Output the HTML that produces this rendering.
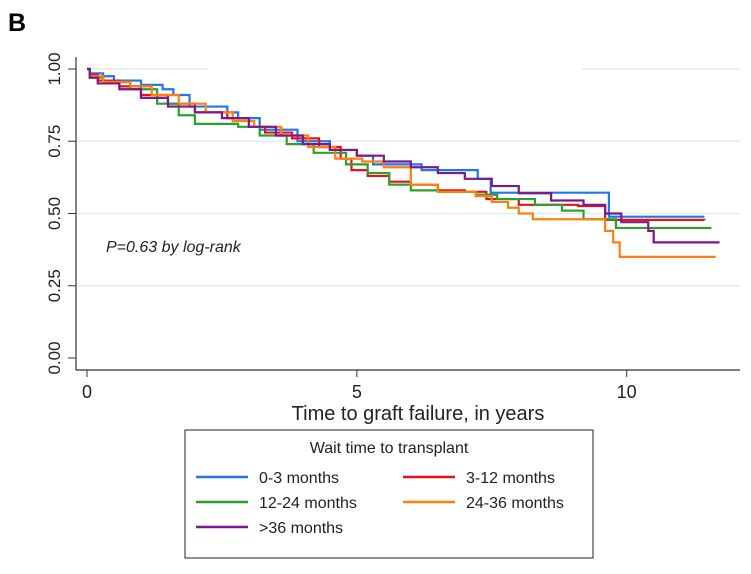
<!DOCTYPE html>
<html><head><meta charset="utf-8">
<style>
body{margin:0;background:#fff;width:751px;height:569px;overflow:hidden;font-family:"Liberation Sans",sans-serif;}
</style></head>
<body>
<svg id="chart" width="751" height="569" viewBox="0 0 751 569" xmlns="http://www.w3.org/2000/svg">
<text x="8" y="31" font-size="25" font-weight="bold" font-family="Liberation Sans">B</text>
<g id="grid"></g>
<g id="axes"></g>
<g id="series"></g>
<text x="106" y="252" font-size="16" font-style="italic" fill="#222">P=0.63 by log-rank</text>
<text x="418" y="420" font-size="20" text-anchor="middle" fill="#222">Time to graft failure, in years</text>
<g id="legend">
<rect x="185" y="430" width="408" height="128" fill="#fff" stroke="#222" stroke-width="1"/>
<text x="389" y="453" font-size="16" text-anchor="middle" fill="#222">Wait time to transplant</text>
</g>
</svg>
<script>
const xTicks=[0,5,10];
const yTicks=[0,0.25,0.5,0.75,1];
const yTickLabels=["0.00","0.25","0.50","0.75","1.00"];
const seriesNames=["0-3 months","3-12 months","12-24 months","24-36 months",">36 months"];
const seriesColors=["#1f77e8","#e8101c","#2ca02c","#ff7f0e","#7a1a8a"];
const tBlue=[0,0.05,0.3,0.5,1.0,1.4,1.6,1.9,2.6,2.8,3.2,3.8,3.9,4.5,5.0,5.3,5.8,6.2,7.24,7.48,9.67,11.44];
const sBlue=[1,0.985,0.975,0.96,0.945,0.93,0.91,0.87,0.85,0.83,0.79,0.79,0.75,0.72,0.70,0.67,0.67,0.65,0.62,0.572,0.489,0.489];
const tRed=[0,0.05,0.2,0.6,1.0,1.5,2.0,2.6,3.0,3.3,3.8,4.3,4.7,4.9,5.2,5.6,6.0,6.5,7.0,7.4,8.0,9.1,9.6,11.44];
const sRed=[1,0.98,0.96,0.94,0.91,0.88,0.85,0.83,0.80,0.78,0.76,0.73,0.69,0.65,0.63,0.61,0.60,0.58,0.575,0.55,0.53,0.526,0.478,0.477];
const tGreen=[0,0.05,0.3,0.8,1.3,1.7,2.0,2.8,3.2,3.7,4.2,4.8,5.2,5.6,6.0,6.5,7.2,7.6,8.3,8.8,9.2,9.8,11.57];
const sGreen=[1,0.97,0.955,0.93,0.88,0.84,0.81,0.80,0.77,0.74,0.71,0.67,0.64,0.60,0.58,0.575,0.565,0.55,0.53,0.51,0.48,0.45,0.45];
const tOrange=[0,0.05,0.3,0.8,1.2,1.7,2.2,2.7,3.1,3.6,4.1,4.6,5.1,5.5,6.0,6.5,7.0,7.2,7.5,7.8,8.0,8.26,9.4,9.6,9.75,9.87,11.65];
const sOrange=[1,0.975,0.955,0.94,0.91,0.88,0.85,0.82,0.80,0.77,0.73,0.69,0.68,0.66,0.60,0.575,0.575,0.56,0.54,0.52,0.50,0.48,0.48,0.44,0.40,0.35,0.35];
const tPurple=[0,0.05,0.2,0.6,1.0,1.5,2.0,2.5,3.0,3.5,4.0,4.5,5.0,5.5,6.0,6.5,7.0,7.5,8.0,8.6,9.2,9.6,9.9,10.4,10.5,11.72];
const sPurple=[1,0.97,0.95,0.93,0.90,0.87,0.85,0.83,0.80,0.77,0.74,0.72,0.70,0.68,0.66,0.64,0.62,0.595,0.57,0.545,0.53,0.50,0.47,0.44,0.40,0.40];
const times=[tBlue,tRed,tGreen,tOrange,tPurple];
const survs=[sBlue,sRed,sGreen,sOrange,sPurple];

const X0=87,X10=626.7,Y0=358,Y1=69;
function xs(t){return X0+(X10-X0)*t/10;}
function ys(v){return Y0+(Y1-Y0)*v;}
const NS="http://www.w3.org/2000/svg";
function mk(tag,attrs,parent){const e=document.createElementNS(NS,tag);for(const k in attrs)e.setAttribute(k,attrs[k]);parent.appendChild(e);return e;}
const grid=document.getElementById('grid'),axes=document.getElementById('axes'),ser=document.getElementById('series'),leg=document.getElementById('legend');
yTicks.forEach((v,i)=>{
  if(v>0){
    if(v===1){
      const g1=mk('line',{x1:87,x2:207,y1:ys(v),y2:ys(v),stroke:'#e1ecf0','stroke-width':1.5},grid);
      
      
      const g2=mk('line',{x1:582,x2:740,y1:ys(v),y2:ys(v),stroke:'#e1ecf0','stroke-width':1.5},grid);
      
      
    } else {
      const g=mk('line',{x1:77,x2:740,y1:ys(v),y2:ys(v),stroke:'#e1ecf0','stroke-width':1.5},grid);
      
      
    }
  }
  const tk=mk('line',{x1:68,x2:76,y1:ys(v),y2:ys(v),stroke:'#333','stroke-width':1},axes);
  
  
  const y=ys(v);
  const tl=mk('text',{x:0,y:0,transform:`translate(60,${y}) rotate(-90)`,'text-anchor':'middle','font-size':17,fill:'#222'},axes);
  tl.textContent=yTickLabels[i];
  
  
});
const ya=mk('line',{x1:76,x2:76,y1:57,y2:370,stroke:'#333','stroke-width':1.2},axes);


const xa=mk('line',{x1:76,x2:740,y1:370,y2:370,stroke:'#333','stroke-width':1.2},axes);


xTicks.forEach(t=>{
  const tk=mk('line',{x1:xs(t),x2:xs(t),y1:370,y2:377,stroke:'#333','stroke-width':1},axes);
  
  
  const tl=mk('text',{x:xs(t),y:398,'text-anchor':'middle','font-size':18,fill:'#222'},axes);
  tl.textContent=String(t);
  
  
});
times.forEach((ts,i)=>{
  const ss=survs[i];
  let d=`M${xs(ts[0])},${ys(ss[0])}`;
  for(let j=1;j<ts.length;j++){d+=` H${xs(ts[j])} V${ys(ss[j])}`;}
  const p=mk('path',{d:d,fill:'none',stroke:seriesColors[i],'stroke-width':2.2},ser);
  
  
});
const legPos=[[196,477],[403,477],[196,502],[403,502],[196,527]];
seriesNames.forEach((n,i)=>{
  const [lx,ly]=legPos[i];
  const ln=mk('line',{x1:lx,x2:lx+52,y1:ly,y2:ly,stroke:seriesColors[i],'stroke-width':2.5},leg);
  
  
  const tx=mk('text',{x:lx+63,y:ly+6,'font-size':16,fill:'#222'},leg);
  tx.textContent=n;
  
  
});
</script>
</body></html>
